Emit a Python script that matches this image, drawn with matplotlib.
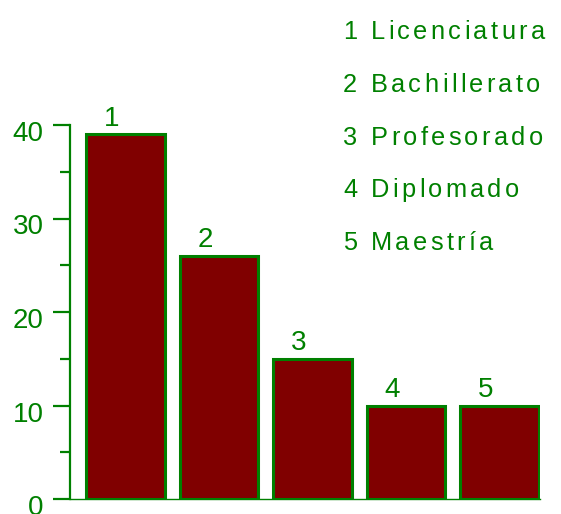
import matplotlib.pyplot as plt
from matplotlib.font_manager import FontProperties
from matplotlib.transforms import ScaledTranslation

# datos
grados = ['1', '2', '3', '4', '5']
valores = [39, 26, 15, 10, 10]
nombres = ['1 Licenciatura', '2 Bachillerato', '3 Profesorado', '4 Diplomado', '5 Maestría']
yticks = [0, 10, 20, 30, 40]
yminor = [5, 15, 25, 35]

verde = '#008000'
rojo = '#800000'
fuente = 'Liberation Sans'

fig = plt.figure(figsize=(5.61, 5.14), dpi=100)
ax = fig.add_axes([70 / 561, 1 - 499 / 514, 470 / 561, 374 / 514])

pos = list(range(len(valores)))
ax.bar(pos, valores, width=0.84, color=rojo, edgecolor=verde, linewidth=2.2, zorder=3)

for p, v, g in zip(pos, valores, grados):
    ax.text(p - 0.15, v + 0.9, g, ha='center', va='baseline', color=verde,
            fontsize=20, family=fuente)

ax.set_xlim(-0.594, 4.433)
ax.set_ylim(0, 40)
ax.set_xticks([])
ax.set_yticks(yticks)
ax.set_yticks(yminor, minor=True)
ax.tick_params(axis='y', which='major', length=12, width=1.6, color=verde,
               labelcolor=verde, labelsize=20, pad=7)
ax.tick_params(axis='y', which='minor', length=7, width=1.6, color=verde)
for lab in ax.get_yticklabels():
    lab.set_family(fuente)
    lab.set_transform(lab.get_transform() + ScaledTranslation(0, -0.06, fig.dpi_scale_trans))

ax.spines['top'].set_visible(False)
ax.spines['right'].set_visible(False)
ax.spines['left'].set_color(verde)
ax.spines['left'].set_linewidth(1.6)
ax.spines['bottom'].set_color(verde)
ax.spines['bottom'].set_linewidth(1)


# texto con espaciado entre letras (como en la imagen original)
def texto_espaciado(x, y, s, size, track):
    r = fig.canvas.get_renderer()
    prop = FontProperties(family=fuente, size=size)
    base = r.get_text_width_height_descent('||', prop, ismath=False)[0]
    for i, ch in enumerate(s):
        w = r.get_text_width_height_descent('|' + s[:i] + '|', prop, ismath=False)[0] - base
        fig.text((x + w + i * track) / 561, 1 - y / 514, ch, color=verde,
                 fontproperties=prop, ha='left', va='baseline')


for i, n in enumerate(nombres):
    texto_espaciado(343, 39 + i * 52.8, n, 18.3, 3.3)

fig.savefig('out.png', dpi=100)
